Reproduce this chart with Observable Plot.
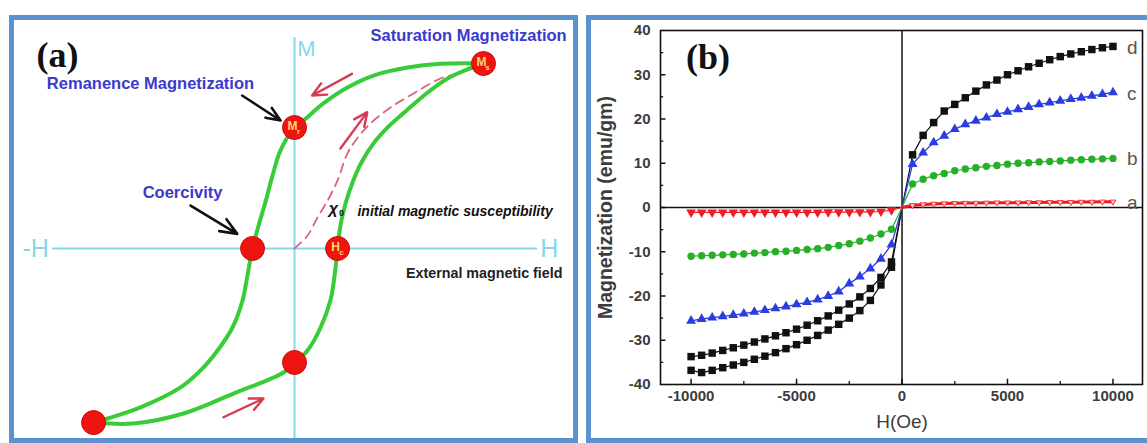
<!DOCTYPE html>
<html>
<head>
<meta charset="utf-8">
<script src="https://cdn.jsdelivr.net/npm/d3@7"></script>
<script src="https://cdn.jsdelivr.net/npm/@observablehq/plot@0.6"></script>
<style>
html,body{margin:0;padding:0;background:#fff;}
#wrap{position:relative;width:1147px;height:443px;overflow:hidden;background:#fff;}
.panel{position:absolute;top:0;}
.border{position:absolute;box-sizing:border-box;border:5px solid #5c93cf;pointer-events:none;}
</style>
</head>
<body>
<div id="wrap">
  <div class="panel" id="pa" style="left:0;"></div>
  <div class="panel" id="pb" style="left:580px;"></div>
  <div class="border" style="left:9px;top:15px;width:569px;height:428px;"></div>
  <div class="border" style="left:586px;top:15px;width:600px;height:428px;"></div>
</div>
<script>
// ================= Panel (a): schematic hysteresis loop (normalized units, Ms = 1) =================
const LOOP_DESC_H = [1.000, 0.772, 0.598, 0.418, 0.280, 0.153, 0.048, 0.000, -0.074, -0.116, -0.153, -0.190, -0.222, -0.249, -0.275, -0.328, -0.407, -0.497, -0.603, -0.815, -0.989, -1.063];
const LOOP_DESC_M = [1.000, 0.998, 0.978, 0.935, 0.870, 0.784, 0.692, 0.654, 0.530, 0.395, 0.254, 0.124, 0.000, -0.146, -0.281, -0.427, -0.551, -0.659, -0.751, -0.859, -0.919, -0.941];
const LOOP_ASC_H = [-1.063, -0.852, -0.587, -0.323, -0.058, 0.000, 0.069, 0.138, 0.190, 0.212, 0.228, 0.243, 0.270, 0.307, 0.354, 0.418, 0.497, 0.593, 0.698, 0.810, 0.915, 1.000];
const LOOP_ASC_M = [-0.941, -0.946, -0.892, -0.784, -0.670, -0.616, -0.551, -0.427, -0.281, -0.146, 0.000, 0.124, 0.243, 0.357, 0.465, 0.568, 0.659, 0.746, 0.838, 0.919, 0.968, 1.000];
const INIT_H = [0.000, 0.069, 0.122, 0.175, 0.228, 0.280, 0.339, 0.402, 0.508, 0.630, 0.772, 0.878, 0.942];
const INIT_M = [0.000, 0.070, 0.168, 0.259, 0.368, 0.514, 0.605, 0.676, 0.762, 0.838, 0.919, 0.951, 0.984];
const KEY_H = [1.000, 0.000, -0.222, 0.228, 0.000, -1.063];
const KEY_M = [1.000, 0.654, 0.000, 0.000, -0.616, -0.941];
const KEY_MAIN = ["M", "M", "", "H", "", ""];
const KEY_SUB = ["s", "r", "", "c", "", ""];

// ================= Panel (b): M–H data =================
const H_NEG = [-10000, -9500, -9000, -8500, -8000, -7500, -7000, -6500, -6000, -5500, -5000, -4500, -4000, -3500, -3000, -2500, -2000, -1500, -1000, -500];
const H_POS = [500, 1000, 1500, 2000, 2500, 3000, 3500, 4000, 4500, 5000, 5500, 6000, 6500, 7000, 7500, 8000, 8500, 9000, 9500, 10000];
const D_POS = [11.9, 16.3, 19.2, 21.8, 23.3, 24.8, 26.3, 27.7, 28.8, 30.0, 30.9, 31.8, 32.6, 33.4, 34.1, 34.7, 35.2, 35.7, 36.1, 36.4];
const D_NEG_UPPER = [-33.7, -33.4, -32.9, -32.3, -31.7, -31.1, -30.4, -29.7, -29.0, -28.3, -27.5, -26.6, -25.6, -24.5, -23.2, -21.8, -20.2, -18.3, -15.8, -12.3];
const D_NEG_LOWER = [-36.8, -37.3, -36.8, -36.2, -35.6, -35.0, -34.3, -33.6, -32.8, -31.9, -31.0, -30.0, -28.9, -27.7, -26.4, -25.0, -23.3, -21.0, -17.5, -13.5];
const C_POS = [9.8, 12.4, 14.7, 16.2, 17.7, 18.8, 19.6, 20.3, 21.1, 21.6, 22.2, 22.7, 23.3, 23.7, 24.1, 24.5, 24.8, 25.2, 25.6, 26.0];
const C_NEG = [-25.6, -25.2, -24.9, -24.6, -24.3, -24.0, -23.6, -23.2, -22.8, -22.4, -21.9, -21.4, -20.8, -20.0, -19.0, -17.2, -15.6, -13.8, -11.6, -8.4];
const B_POS = [5.3, 6.4, 7.2, 7.7, 8.3, 8.7, 9.0, 9.3, 9.5, 9.8, 10.0, 10.1, 10.3, 10.4, 10.5, 10.7, 10.8, 10.9, 11.0, 11.1];
const B_NEG = [-11.0, -10.9, -10.8, -10.7, -10.6, -10.5, -10.3, -10.2, -10.0, -9.9, -9.7, -9.5, -9.3, -9.0, -8.6, -8.2, -7.6, -6.9, -6.0, -4.9];
const A_POS = [0.5, 0.7, 0.8, 0.9, 0.95, 1.0, 1.0, 1.05, 1.1, 1.1, 1.1, 1.15, 1.15, 1.2, 1.2, 1.2, 1.25, 1.25, 1.3, 1.3];
const A_NEG = [-1.1, -1.1, -1.1, -1.1, -1.1, -1.1, -1.1, -1.1, -1.1, -1.1, -1.1, -1.1, -1.1, -1.05, -1.05, -1.05, -1.0, -1.0, -0.9, -0.6];
const SERIES_NAMES = ["a", "b", "c", "d"];
const SERIES_END = [A_POS, B_POS, C_POS, D_POS];
const Y_TICKS = [-40, -30, -20, -10, 0, 10, 20, 30, 40];
const Y_MINOR = [-35, -25, -15, -5, 5, 15, 25, 35];
const X_TICKS = [-10000, -5000, 0, 5000, 10000];
const X_MINOR = [-7500, -2500, 2500, 7500];

// ---------- helpers ----------
const zipHM = (hs, ms) => hs.map((h, i) => ({H: h, M: ms[i]}));
const ORIGIN = {H: 0, M: 0};

// ================= Draw panel (a) =================
const CYAN = "#86d8ea";
const GREEN = "#38cc38";
const descData = zipHM(LOOP_DESC_H, LOOP_DESC_M);
const ascData = zipHM(LOOP_ASC_H, LOOP_ASC_M);
const initData = zipHM(INIT_H, INIT_M);
const keyPts = KEY_H.map((h, i) => ({H: h, M: KEY_M[i], main: KEY_MAIN[i], sub: KEY_SUB[i]}));
const sansA = "Liberation Sans, Arial, Helvetica, sans-serif";

const plotA = Plot.plot({
  width: 580, height: 443,
  marginTop: 0, marginRight: 0, marginBottom: 0, marginLeft: 0,
  x: {domain: [-294 / 189, 286 / 189], axis: null},
  y: {domain: [-195 / 185, 248 / 185], axis: null},
  style: {background: "transparent", fontFamily: sansA, overflow: "visible"},
  marks: [
    Plot.ruleY([0], {x1: -1.280, x2: 1.286, stroke: CYAN, strokeWidth: 2.2}),
    Plot.ruleX([0], {y1: -1.054, y2: 1.141, stroke: CYAN, strokeWidth: 2}),
    Plot.text(["-H"], {x: -1.300, y: 0, textAnchor: "end", fill: CYAN, fontSize: 25}),
    Plot.text(["H"], {x: 1.300, y: 0, textAnchor: "start", fill: CYAN, fontSize: 25}),
    Plot.text(["M"], {x: 0.063, y: 1.081, fill: CYAN, fontSize: 22}),
    Plot.line(initData, {x: "H", y: "M", curve: "catmull-rom", stroke: "#e2607a", strokeWidth: 1.8, strokeDasharray: "9,6"}),
    Plot.line(descData, {x: "H", y: "M", curve: "catmull-rom", stroke: GREEN, strokeWidth: 4}),
    Plot.line(ascData, {x: "H", y: "M", curve: "catmull-rom", stroke: GREEN, strokeWidth: 4}),
    Plot.arrow([{x1: 0.304, y1: 0.944, x2: 0.093, y2: 0.827}, {x1: 0.243, y1: 0.541, x2: 0.385, y2: 0.737}, {x1: -0.376, y1: -0.912, x2: -0.164, y2: -0.811}],
      {x1: "x1", y1: "y1", x2: "x2", y2: "y2", stroke: "#d83a55", strokeWidth: 2.4, headLength: 10, headAngle: 50}),
    Plot.arrow([{x1: -0.277, y1: 0.827, x2: -0.074, y2: 0.692}, {x1: -0.550, y1: 0.232, x2: -0.303, y2: 0.079}],
      {x1: "x1", y1: "y1", x2: "x2", y2: "y2", stroke: "#111", strokeWidth: 2.6, headLength: 13, headAngle: 45}),
    Plot.dot(keyPts, {x: "H", y: "M", r: 12, fill: "#ee1410", stroke: "#cf0a0a", strokeWidth: 1}),
    Plot.text(keyPts, {x: "H", y: "M", text: "main", dx: -2, dy: -1, fill: "#ffd56e", fontSize: 12, fontWeight: "bold"}),
    Plot.text(keyPts, {x: "H", y: "M", text: "sub", dx: 4, dy: 4, fill: "#ffd56e", fontSize: 8, fontWeight: "bold"}),
    Plot.text(["(a)"], {x: -1.254, y: 1.043, fontFamily: "Liberation Serif, Times New Roman, serif", fontWeight: "bold", fontSize: 36, fill: "#111"}),
    Plot.text(["Saturation Magnetization"], {x: 0.921, y: 1.151, fill: "#3a3acb", fontSize: 16.5, fontWeight: "bold"}),
    Plot.text(["Remanence Magnetization"], {x: -0.762, y: 0.892, fill: "#3a3acb", fontSize: 16.5, fontWeight: "bold"}),
    Plot.text(["Coercivity"], {x: -0.381, y: 0.303, textAnchor: "end", fill: "#3a3acb", fontSize: 16.5, fontWeight: "bold"}),
    Plot.text(["χ"], {x: 0.206, y: 0.216, fill: "#111", fontSize: 16, fontWeight: "bold", fontStyle: "italic"}),
    Plot.text(["0"], {x: 0.206, y: 0.216, dx: 8, dy: 5, fill: "#111", fontSize: 9, fontWeight: "bold"}),
    Plot.text(["initial magnetic susceptibility"], {x: 0.333, y: 0.200, textAnchor: "start", fill: "#111", fontSize: 14, fontWeight: "bold", fontStyle: "italic"}),
    Plot.text(["External magnetic field"], {x: 1.418, y: -0.135, textAnchor: "end", fill: "#222", fontSize: 14.3, fontWeight: "bold"})
  ]
});
document.getElementById("pa").appendChild(plotA);

// ================= Draw panel (b) =================
const X_MIN = -11450, X_MAX = 11400;
const COL = {a: "#ee1c24", b: "#27b027", c: "#2a3de0", d: "#111111"};
const dLine1 = [...zipHM(H_NEG, D_NEG_UPPER), ORIGIN, ...zipHM(H_POS, D_POS)];
const dLine2 = [...zipHM(H_NEG, D_NEG_LOWER), ORIGIN];
const cLine = [...zipHM(H_NEG, C_NEG), ORIGIN, ...zipHM(H_POS, C_POS)];
const bLine = [...zipHM(H_NEG, B_NEG), ORIGIN, ...zipHM(H_POS, B_POS)];
const aLineNeg = [...zipHM(H_NEG, A_NEG), ORIGIN];
const aLinePos = [ORIGIN, ...zipHM(H_POS, A_POS)];
const dPts = [...zipHM(H_NEG, D_NEG_UPPER), ...zipHM(H_NEG, D_NEG_LOWER), ...zipHM(H_POS, D_POS)];
const cPts = [...zipHM(H_NEG, C_NEG), ...zipHM(H_POS, C_POS)];
const bPts = [...zipHM(H_NEG, B_NEG), ...zipHM(H_POS, B_POS)];
const aNegPts = zipHM(H_NEG, A_NEG);
const aPosPts = zipHM(H_POS, A_POS);
const endLabels = SERIES_NAMES.map((s, i) => ({s, H: H_POS[H_POS.length - 1], M: SERIES_END[i][SERIES_END[i].length - 1]}));
const tickCol = "#3c3c3c";

const plotB = Plot.plot({
  width: 567, height: 443,
  marginTop: 30, marginRight: 5, marginBottom: 59, marginLeft: 80,
  x: {domain: [X_MIN, X_MAX]},
  y: {domain: [-40, 40]},
  style: {background: "transparent", fontFamily: sansA, overflow: "visible"},
  marks: [
    Plot.ruleY([0], {stroke: "#111", strokeWidth: 1.5}),
    Plot.ruleX([0], {stroke: "#111", strokeWidth: 1.5}),
    Plot.ruleY(Y_TICKS.slice(1, -1), {x1: X_MIN, x2: X_MIN + 260, stroke: "#111", strokeWidth: 1.5}),
    Plot.ruleY(Y_MINOR, {x1: X_MIN, x2: X_MIN + 150, stroke: "#111", strokeWidth: 1.3}),
    Plot.ruleX(X_TICKS, {y1: -40, y2: -38.8, stroke: "#111", strokeWidth: 1.5}),
    Plot.ruleX(X_MINOR, {y1: -40, y2: -39.3, stroke: "#111", strokeWidth: 1.3}),
    Plot.axisY(Y_TICKS, {tickSize: 0, tickPadding: 10, tickFormat: d => String(d), fontSize: 15, fontWeight: "bold", fill: tickCol, label: null}),
    Plot.axisX(X_TICKS, {tickSize: 0, tickPadding: 6, tickFormat: d => String(d), fontSize: 15, fontWeight: "bold", fill: tickCol, label: null}),
    Plot.text(["Magnetization (emu/gm)"], {frameAnchor: "left", textAnchor: "middle", dx: -55, rotate: -90, fontSize: 19.5, fontWeight: "bold", fill: tickCol}),
    Plot.text(["H(Oe)"], {x: 0, frameAnchor: "bottom", dy: 43, fontSize: 19, fill: tickCol}),
    Plot.line(dLine1, {x: "H", y: "M", stroke: COL.d, strokeWidth: 1.2}),
    Plot.line(dLine2, {x: "H", y: "M", stroke: COL.d, strokeWidth: 1.2}),
    Plot.line(cLine, {x: "H", y: "M", stroke: COL.c, strokeWidth: 1.3}),
    Plot.line(bLine, {x: "H", y: "M", stroke: COL.b, strokeWidth: 1.2}),
    Plot.line(aLineNeg, {x: "H", y: "M", stroke: COL.a, strokeWidth: 1.2}),
    Plot.line(aLinePos, {x: "H", y: "M", stroke: COL.a, strokeWidth: 3}),
    Plot.dot(dPts, {x: "H", y: "M", symbol: "square", r: 4.2, fill: COL.d}),
    Plot.dot(cPts, {x: "H", y: "M", symbol: "triangle", r: 3.7, fill: COL.c}),
    Plot.dot(bPts, {x: "H", y: "M", symbol: "circle", r: 3.7, fill: COL.b}),
    Plot.dot(aNegPts, {x: "H", y: "M", symbol: "triangle", rotate: 180, r: 3.6, fill: COL.a}),
    Plot.dot(aPosPts, {x: "H", y: "M", symbol: "triangle", rotate: 180, r: 2.2, fill: "#ffc4c4", stroke: COL.a, strokeWidth: 0.8}),
    Plot.frame({stroke: "#111", strokeWidth: 1.6}),
    Plot.text(endLabels, {x: "H", y: "M", text: "s", textAnchor: "start", dx: 14, dy: 1, fontSize: 19, fill: "#555"}),
    Plot.text(["(b)"], {x: -9200, y: 33.8, fontFamily: "Liberation Serif, Times New Roman, serif", fontWeight: "bold", fontSize: 36, fill: "#111"})
  ]
});
document.getElementById("pb").appendChild(plotB);
</script>
</body>
</html>
